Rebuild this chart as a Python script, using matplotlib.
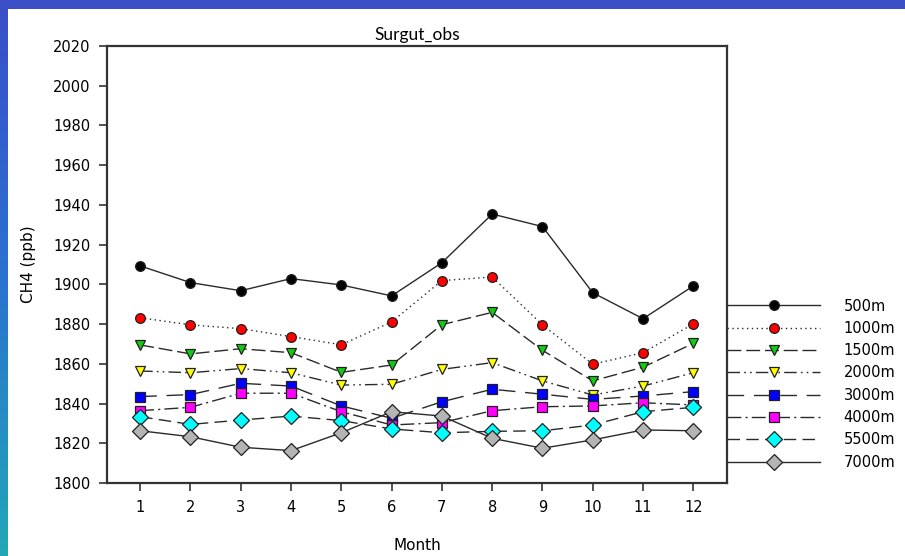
#!/usr/bin/env python3
import numpy as np
import matplotlib
matplotlib.use('Agg')
import matplotlib.pyplot as plt

# Monthly CH4 profile at Surgut
months = [1, 2, 3, 4, 5, 6, 7, 8, 9, 10, 11, 12]
ch4_500m = [1909.3, 1900.9, 1896.8, 1902.9, 1899.7, 1894.2, 1910.9, 1935.4, 1929.1, 1895.8, 1882.7, 1899.2]
ch4_1000m = [1883.2, 1879.6, 1877.7, 1873.7, 1869.6, 1881.1, 1901.9, 1903.7, 1879.6, 1859.8, 1865.6, 1880.1]
ch4_1500m = [1869.5, 1865.0, 1867.6, 1865.6, 1855.7, 1859.4, 1879.7, 1885.9, 1866.8, 1851.4, 1858.3, 1870.3]
ch4_2000m = [1856.4, 1855.5, 1857.6, 1855.5, 1849.3, 1849.7, 1857.2, 1860.6, 1851.4, 1844.3, 1848.8, 1855.5]
ch4_3000m = [1843.5, 1844.5, 1850.2, 1848.8, 1838.8, 1832.6, 1840.9, 1847.2, 1844.7, 1842.1, 1843.8, 1846.0]
ch4_4000m = [1836.4, 1838.1, 1845.2, 1845.2, 1835.9, 1829.2, 1830.4, 1836.4, 1838.4, 1838.8, 1840.4, 1839.3]
ch4_5500m = [1833.4, 1829.5, 1831.7, 1833.7, 1831.4, 1827.2, 1825.3, 1826.0, 1826.3, 1829.2, 1835.9, 1838.1]
ch4_7000m = [1826.3, 1823.3, 1818.0, 1816.3, 1825.3, 1835.9, 1833.7, 1822.5, 1817.5, 1821.7, 1826.7, 1826.3]
level_labels = ['500m', '1000m', '1500m', '2000m', '3000m', '4000m', '5500m', '7000m']

series = [ch4_500m, ch4_1000m, ch4_1500m, ch4_2000m, ch4_3000m, ch4_4000m, ch4_5500m, ch4_7000m]
styles = [
    dict(marker='o', mfc='black', ms=7, dashes=()),
    dict(marker='o', mfc='#ff0000', ms=7, dashes=(1, 2.5)),
    dict(marker='v', mfc='#11cc11', ms=7.5, dashes=(10, 3.5)),
    dict(marker='v', mfc='#ffff00', ms=7.5, dashes=(9, 3, 1.2, 3, 1.2, 3)),
    dict(marker='s', mfc='#0000ff', ms=7.5, dashes=(12, 7)),
    dict(marker='s', mfc='#ff00ff', ms=7.5, dashes=(10, 3, 1.5, 3)),
    dict(marker='D', mfc='#00ffff', ms=8.5, dashes=(9, 4.5)),
    dict(marker='D', mfc='#b4b4b4', ms=8.5, dashes=()),
]

fig = plt.figure(figsize=(9.05, 5.56), dpi=100)
fig.patch.set_facecolor('white')

# blue frame of the slide (top band and left band)
grad = np.linspace(0, 1, 256).reshape(-1, 1)
cmap = matplotlib.colors.LinearSegmentedColormap.from_list('frame', ['#3a4ec8', '#2a72d0', '#22a8b6'])
lax = fig.add_axes([0, 0, 7 / 905, 1])
lax.imshow(grad, aspect='auto', cmap=cmap)
lax.axis('off')
tax = fig.add_axes([0, 1 - 9 / 556, 1, 9 / 556])
tax.set_facecolor('#3b4fc6')
tax.set_xticks([])
tax.set_yticks([])
for s in tax.spines.values():
    s.set_visible(False)

ax = fig.add_axes([107 / 905, 1 - 483 / 556, 620 / 905, 437 / 556])
for vals, lab, st in zip(series, level_labels, styles):
    ax.plot(months, vals, color='#2a2a2a', linewidth=1.0, dashes=st['dashes'],
            marker=st['marker'], markersize=st['ms'], markerfacecolor=st['mfc'],
            markeredgecolor='#202020', markeredgewidth=0.9, label=lab)

ax.set_xlim(0.34, 12.67)
ax.set_ylim(1800, 2020)
ax.set_xticks(months)
ax.set_yticks(np.arange(1800, 2021, 20))
ax.tick_params(direction='out', length=6, width=1.2, color='#333333', labelsize=10.5, pad=6)
for s in ax.spines.values():
    s.set_color('#333333')
    s.set_linewidth(1.6)

ax.set_title('Surgut_obs', fontsize=12.5, family='Lato', pad=4)
ax.set_xlabel('Month', fontsize=11, labelpad=17)
ax.set_ylabel('CH4 (ppb)', fontsize=11, labelpad=12)

ax.legend(loc='upper left', bbox_to_anchor=(1.0, 0.422), frameon=False, fontsize=10.5,
          borderaxespad=0, borderpad=0, handlelength=6.4, handletextpad=1.6,
          labelspacing=0.5, numpoints=1)

plt.savefig('out.png', dpi=100, facecolor=fig.get_facecolor())
